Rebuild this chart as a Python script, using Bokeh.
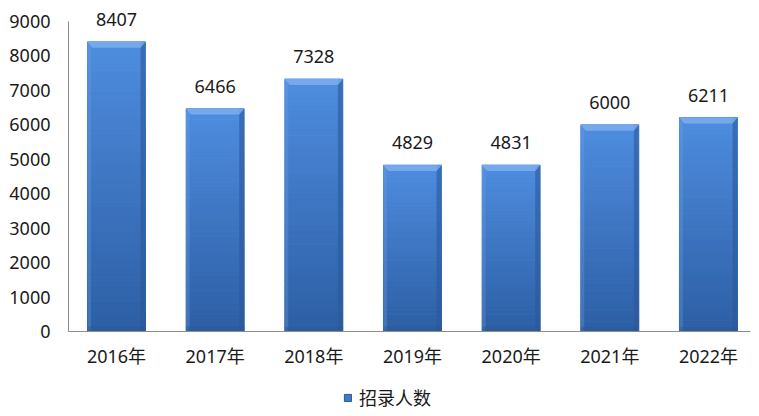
from bokeh.plotting import figure
from bokeh.layouts import column
from bokeh.models import ColumnDataSource, Range1d, Legend, LegendItem, FixedTicker
from bokeh.core.properties import value
from bokeh.embed import file_html
from bokeh.resources import INLINE

categories = ["2016年", "2017年", "2018年", "2019年", "2020年", "2021年", "2022年"]
counts = [8407, 6466, 7328, 4829, 4831, 6000, 6211]
series_name = "招录人数"
y_ticks = [0, 1000, 2000, 3000, 4000, 5000, 6000, 7000, 8000, 9000]

FONT = "'Noto Sans', 'Noto Sans CJK SC', sans-serif"
BAR_W = 0.588
N_SLICES = 40
TOP_C = (78, 140, 222)
BOT_C = (45, 95, 165)

def mix(a, b, t):
    return "#%02x%02x%02x" % tuple(int(round(a[i] + (b[i] - a[i]) * t)) for i in range(3))

xs = list(range(len(categories)))
y_max = y_ticks[-1]
y_end = y_max * 332 / 311  # leave headroom above the 9000 line for the labels

p = figure(width=759, height=370, output_backend="svg", toolbar_location=None,
           x_range=Range1d(-0.4865, 6.426), y_range=Range1d(0, y_end),
           min_border_left=68, min_border_right=9, min_border_top=0, min_border_bottom=38)
p.outline_line_color = None
p.grid.visible = False
p.background_fill_color = "white"

# gradient slices (lighter top -> darker bottom)
sl = dict(left=[], right=[], bottom=[], top=[], color=[])
for x, v in zip(xs, counts):
    for i in range(N_SLICES):
        b = v * i / N_SLICES
        t = v * (i + 1) / N_SLICES
        sl["left"].append(x - BAR_W / 2)
        sl["right"].append(x + BAR_W / 2)
        sl["bottom"].append(b)
        sl["top"].append(t)
        sl["color"].append(mix(BOT_C, TOP_C, i / (N_SLICES - 1)))
p.quad(left="left", right="right", bottom="bottom", top="top", fill_color="color",
       line_color="color", line_width=1, source=ColumnDataSource(sl))

# bevel effects
bx = 0.05
by = 170
src = ColumnDataSource(dict(x=xs, v=counts, label=[str(v) for v in counts]))
# right dark edge
p.quad(left=[x + BAR_W / 2 - bx for x in xs], right=[x + BAR_W / 2 for x in xs],
       bottom=[0] * len(xs), top=counts, fill_color="#2b5899", fill_alpha=0.6, line_color=None)
# left light edge
p.quad(left=[x - BAR_W / 2 for x in xs], right=[x - BAR_W / 2 + bx * 0.7 for x in xs],
       bottom=[0] * len(xs), top=counts, fill_color="#6ea2e6", fill_alpha=0.3, line_color=None)
# top bevel trapezoid
tx, ty = [], []
for x, v in zip(xs, counts):
    tx.append([x - BAR_W / 2, x + BAR_W / 2, x + BAR_W / 2 - bx, x - BAR_W / 2 + bx])
    ty.append([v, v, v - by, v - by])
p.patches(tx, ty, fill_color="#7fb0ee", fill_alpha=0.8, line_color=None)
# bottom dark band
p.quad(left=[x - BAR_W / 2 for x in xs], right=[x + BAR_W / 2 for x in xs],
       bottom=[0] * len(xs), top=[by * 0.8] * len(xs), fill_color="#2a5594", fill_alpha=0.4, line_color=None)

# value labels
p.text(x="x", y="v", text="label", source=src,
       text_align="center", text_baseline="bottom", y_offset=-16,
       text_font=value(FONT), text_font_size="18px", text_color="#1a1a1a")

# axes
p.yaxis.ticker = FixedTicker(ticks=y_ticks)
p.yaxis.bounds = (0, y_max)
p.xaxis.ticker = FixedTicker(ticks=xs)
p.xaxis.major_label_overrides = {x: c for x, c in zip(xs, categories)}
for ax in (p.xaxis, p.yaxis):
    ax.axis_line_color = "#8c8c8c"
    ax.axis_line_width = 1
    ax.major_tick_line_color = None
    ax.minor_tick_line_color = None
    ax.major_tick_out = 0
    ax.major_tick_in = 0
    ax.major_label_text_font = FONT
    ax.major_label_text_font_size = "18px"
    ax.major_label_text_color = "#1a1a1a"
p.yaxis.major_label_standoff = 18
p.xaxis.major_label_standoff = 12

# legend strip below the chart
lg = figure(width=759, height=46, output_backend="svg", toolbar_location=None,
            x_range=Range1d(0, 1), y_range=Range1d(0, 1),
            min_border_left=0, min_border_right=0, min_border_top=0, min_border_bottom=0)
lg.axis.visible = False
lg.grid.visible = False
lg.outline_line_color = None
proxy = lg.rect(x=[-10], y=[-10], width=0.1, height=0.1, fill_color="#3f78c8", line_color="#2b5899")
legend = Legend(items=[LegendItem(label=series_name, renderers=[proxy])],
                location=(275, 6), orientation="horizontal",
                glyph_width=9, glyph_height=9, label_standoff=7,
                padding=0, margin=0, border_line_color=None, background_fill_alpha=0,
                label_text_font=FONT, label_text_font_size="18px", label_text_color="#1a1a1a")
lg.add_layout(legend)

open("out.html", "w").write(file_html(column(p, lg, spacing=0), INLINE))
